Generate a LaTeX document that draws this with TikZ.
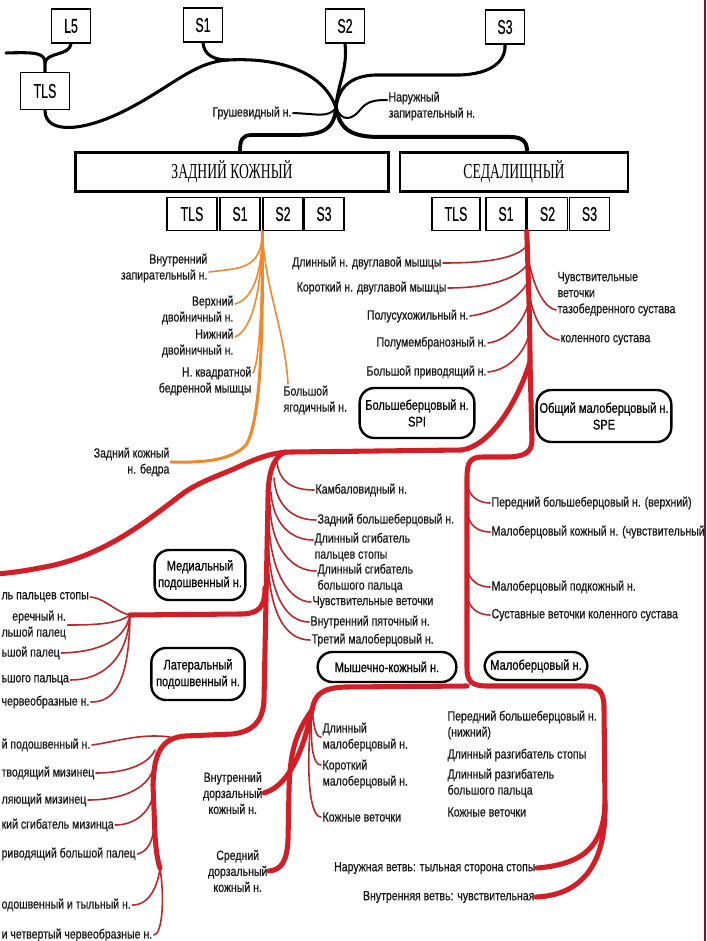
\documentclass[tikz,border=0pt]{standalone}
\usepackage{fontspec}
\setmainfont{Liberation Sans}[FakeStretch=0.79, FakeBold=0.6]
\newfontfamily\segfont{Liberation Sans}[FakeStretch=0.62, FakeBold=0.5]
\newfontfamily\titfont{Liberation Serif}[FakeStretch=0.64]
\usetikzlibrary{calc}
\definecolor{nervered}{HTML}{D21E26}
\definecolor{twigred}{HTML}{B52A2D}
\definecolor{nerveorange}{HTML}{EE8A2C}
\definecolor{edgered}{HTML}{7A1424}
\tikzstyle{lab} = [font=\fontsize{10}{12}\selectfont, inner sep=1pt, text=black!90]
\tikzstyle{seg} = [draw=black, line width=1.1pt, fill=white, rectangle,
    font=\segfont\fontsize{15}{15}\selectfont, minimum width=29pt, minimum height=25.5pt, inner sep=0pt]
\tikzstyle{subseg} = [seg, minimum width=30pt, minimum height=25pt]
\tikzstyle{mainbox} = [draw=black, line width=2.2pt, fill=white, rectangle,
    font=\titfont\fontsize{16}{16}\selectfont, minimum height=29pt, inner sep=0pt]
\tikzstyle{oval} = [draw=black, line width=1.8pt, fill=white, rounded corners=11pt, align=center,
    font=\fontsize{10.5}{12.5}\selectfont, inner sep=0pt]
\tikzstyle{rootline} = [draw=black, line width=2.3pt, line cap=round]
\tikzstyle{rootthin} = [draw=black, line width=1.5pt, line cap=round]
\tikzstyle{trunk} = [draw=nervered, line width=3.8pt, line cap=round]
\tikzstyle{twig} = [draw=twigred, line width=1.2pt, line cap=round]
\tikzstyle{otrunk} = [draw=nerveorange, line width=2.3pt, line cap=round]
\tikzstyle{otwig} = [draw=nerveorange, line width=1.2pt, line cap=round]

\begin{document}
\begin{tikzpicture}[x=0.75pt,y=-0.75pt]
\useasboundingbox[fill=white] (0,0) rectangle (706,941);
\draw[edgered, line width=1.5pt] (704.5,0) -- (704.5,941);

\node[seg] (L5) at (71,26) {L5};
\node[seg] (S1) at (203,25) {S1};
\node[seg] (S2) at (345,26) {S2};
\node[seg] (S3) at (505,27) {S3};
\node[seg, minimum width=37pt, minimum height=28pt] (TLS) at (45,91) {TLS};

\node[mainbox, minimum width=234.75pt] (zk) at (232,172) {ЗАДНИЙ КОЖНЫЙ};
\node[mainbox, minimum width=171pt] (sed) at (514,172) {СЕДАЛИЩНЫЙ};

\node[subseg, minimum width=37.5pt] (zTLS) at (192,214) {TLS};
\node[subseg] (zS1) at (240,214) {S1};
\node[subseg] (zS2) at (283,214) {S2};
\node[subseg] (zS3) at (324,214) {S3};
\node[subseg, minimum width=36pt] (sTLS) at (456,214) {TLS};
\node[subseg] (sS1) at (506,214) {S1};
\node[subseg] (sS2) at (547.5,214) {S2};
\node[subseg] (sS3) at (589.5,214) {S3};

\node[lab, anchor=east] (gru) at (293,113) {Грушевидный н.};
\node[lab, anchor=west, align=left] (nar) at (387,106) {Наружный\\запирательный н.};

\node[lab, anchor=east, align=right] (vzap) at (209,268) {Внутренний\\запирательный н.};
\node[lab, anchor=east, align=right] (vdv) at (235,310) {Верхний\\двойничный н.};
\node[lab, anchor=east, align=right] (ndv) at (235,343) {Нижний\\двойничный н.};
\node[lab, anchor=east, align=right] (kvb) at (253,381) {Н. квадратной\\бедренной мышцы};
\node[lab, anchor=west, align=left] (bya) at (282,400) {Большой\\ягодичный н.};
\node[lab, anchor=east, align=right] (zkb) at (171,462) {Задний кожный\\н. бедра};

\node[lab, anchor=east] (dlb) at (443,263) {Длинный н. двуглавой мышцы};
\node[lab, anchor=east] (krb) at (448,288) {Короткий н. двуглавой мышцы};
\node[lab, anchor=east] (pss) at (470,316) {Полусухожильный н.};
\node[lab, anchor=east] (pmb) at (488,343) {Полумембранозный н.};
\node[lab, anchor=east] (bpr) at (488,372) {Большой приводящий н.};
\node[lab, anchor=west, align=left] (chv) at (556,294) {Чувствительные\\веточки\\тазобедренного сустава};
\node[lab, anchor=west] (kls) at (559,340) {коленного сустава};

\node[oval, minimum width=86pt, minimum height=37.5pt] (spi) at (417,413) {Большеберцовый н.\\SPI};
\node[oval, minimum width=101pt, minimum height=39pt] (spe) at (604,416) {Общий малоберцовый н.\\SPE};
\node[oval, minimum width=68pt, minimum height=37.5pt] (mpn) at (200,575) {Медиальный\\подошвенный н.};
\node[oval, minimum width=70pt, minimum height=39pt] (lpn) at (198,674) {Латеральный\\подошвенный н.};
\node[oval, minimum width=104pt, minimum height=22.5pt] (mkn) at (387,667) {Мышечно-кожный н.};
\node[oval, minimum width=77pt, minimum height=21pt] (mbn) at (536,666) {Малоберцовый н.};

\node[lab, anchor=west] (kmb) at (314,490) {Камбаловидный н.};
\node[lab, anchor=west] (zbb) at (316,520) {Задний большеберцовый н.};
\node[lab, anchor=west, align=left] (dsp) at (313,547) {Длинный сгибатель\\пальцев стопы};
\node[lab, anchor=west, align=left] (dsb) at (316,578) {Длинный сгибатель\\большого пальца};
\node[lab, anchor=west] (chvv) at (311,602) {Чувствительные веточки};
\node[lab, anchor=west] (vpt) at (309,622) {Внутренний пяточный н.};
\node[lab, anchor=west] (tmb) at (310,640) {Третий малоберцовый н.};

\node[lab, anchor=west] (pbv) at (490,503) {Передний большеберцовый н. (верхний)};
\node[lab, anchor=west] (mkch) at (490,532) {Малоберцовый кожный н. (чувствительный};
\node[lab, anchor=west] (mpk) at (490,587) {Малоберцовый подкожный н.};
\node[lab, anchor=west] (svk) at (490,615) {Суставные веточки коленного сустава};

\node[lab, anchor=west] (mp1) at (0,597) {ль пальцев стопы};
\node[lab, anchor=west, align=right] (mp2) at (0,625) {еречный н.\\льшой палец};
\node[lab, anchor=west] (mp3) at (0,653) {ьшой палец};
\node[lab, anchor=west] (mp4) at (0,680) {ьшого пальца};
\node[lab, anchor=west] (mp5) at (0,702) {червеобразные н.};

\node[lab, anchor=west] (lp1) at (0,745) {й подошвенный н.};
\node[lab, anchor=west] (lp2) at (0,773) {тводящий мизинец};
\node[lab, anchor=west] (lp3) at (0,800) {ляющий мизинец};
\node[lab, anchor=west] (lp4) at (0,825) {кий сгибатель мизинца};
\node[lab, anchor=west] (lp5) at (0,854) {риводящий большой палец};
\node[lab, anchor=west] (lp6) at (0,905) {одошвенный и тыльный н.};
\node[lab, anchor=west] (lp7) at (0,935) {и четвертый червеобразные н.};

\node[lab, anchor=east, align=center] (vdk) at (264,793) {Внутренний\\дорзальный\\кожный н.};
\node[lab, anchor=east, align=center] (sdk) at (269,871) {Средний\\дорзальный\\кожный н.};
\node[lab, anchor=west, align=left] (dmb) at (321,737) {Длинный\\малоберцовый н.};
\node[lab, anchor=west, align=left] (kmbr) at (321,774) {Короткий\\малоберцовый н.};
\node[lab, anchor=west] (kv1) at (321,817) {Кожные веточки};

\node[lab, anchor=west, align=left] (pbn) at (446,725) {Передний большеберцовый н.\\(нижний)};
\node[lab, anchor=west] (drs) at (446,755) {Длинный разгибатель стопы};
\node[lab, anchor=west, align=left] (drb) at (446,783) {Длинный разгибатель\\большого пальца};
\node[lab, anchor=west] (kv2) at (446,812) {Кожные веточки};
\node[lab, anchor=east] (nvt) at (537,868) {Наружная ветвь: тыльная сторона стопы};
\node[lab, anchor=east] (vvc) at (536,897) {Внутренняя ветвь: чувствительная};

\coordinate (lend) at (6,53);
\coordinate (tlsj) at (45,63);
\coordinate (s1j) at (228,60);
\coordinate (cross) at (336,108);
\draw[rootline] (lend) .. controls (36,52) and (45,53) .. (tlsj) -- (TLS.north);
\draw[rootline] (L5.south) .. controls (70,56) and (46,52) .. (tlsj);
\draw[rootline] (TLS.south) .. controls (45,135) and (85,132) .. (130,108) .. controls (175,84) and (195,62) .. (s1j);
\draw[rootline] (S1.south) .. controls (204,55) and (214,60) .. (s1j);
\draw[rootline] (s1j) .. controls (285,57) and (325,75) .. (cross);
\draw[rootline] (S2.south) .. controls (348,70) and (337,85) .. (cross);
\draw[rootline] (S3.south) .. controls (506,62) and (490,74) .. (460,75) -- (375,75) .. controls (348,76) and (338,90) .. (cross);
\draw[rootline, line width=2.8pt] (cross) .. controls (334,130) and (322,135) .. (295,135) -- (252,135) .. controls (242,135) and (240,140) .. ($(zk.north)+(8,0)$);
\draw[rootline, line width=3pt] (cross) .. controls (340,130) and (352,137) .. (380,137) -- (510,137) .. controls (523,137) and (527,142) .. ($(sed.north)+(13,0)$);
\draw[rootthin] (gru.east) .. controls (318,114) and (328,118) .. (cross);
\draw[rootthin] (cross) .. controls (342,122) and (352,120) .. (360,110) .. controls (367,101) and (375,100) .. ($(nar.west)+(0,-6)$);

\draw[otrunk] (zS2.south west) .. controls (263,320) and (262,420) .. (246,445) .. controls (232,460) and (205,463) .. (zkb.east);
\draw[otwig] (zS2.south west) .. controls (262,270) and (240,268) .. ($(vzap.east)+(0,4)$);
\draw[otwig] (zS2.south west) .. controls (262,280) and (250,300) .. ($(vdv.east)+(0,-6)$);
\draw[otwig] (zS2.south west) .. controls (262,290) and (252,330) .. ($(ndv.east)+(0,-6)$);
\draw[otwig] (zS2.south west) .. controls (262,300) and (260,360) .. ($(kvb.east)+(0,-8)$);
\draw[otwig] (zS2.south west) .. controls (265,290) and (285,330) .. ($(bya.north west)+(6,0)$);

\coordinate (sj) at (530,362);
\coordinate (tj) at (285,452);
\coordinate (lend2) at (-4,574);
\draw[trunk] (sS2.south west) .. controls (529,300) and (530,330) .. (sj);
\draw[twig] (dlb.east) .. controls (490,263) and (520,258) .. (529,243);
\draw[twig] (krb.east) .. controls (490,288) and (520,278) .. (529,262);
\draw[twig] (pss.east) .. controls (500,312) and (522,295) .. (529,280);
\draw[twig] (pmb.east) .. controls (510,340) and (526,318) .. (529,300);
\draw[twig] (bpr.east) .. controls (510,370) and (527,350) .. (530,330);
\draw[twig] (530,266) .. controls (535,290) and (545,308) .. ($(chv.west)+(0,16)$);
\draw[twig] (530,298) .. controls (535,322) and (545,338) .. (kls.west);

\draw[trunk] (sj) -- (532,440) .. controls (532,453) and (524,457) .. (505,457) -- (483,457) .. controls (470,457) and (467,462) .. (467,478) -- (467,668) .. controls (467,682) and (472,686) .. (488,686) -- (585,686) .. controls (599,686) and (604,692) .. (604,708) -- (605,805);
\draw[trunk] (sj) .. controls (518,400) and (492,445) .. (462,450) -- (292,452) .. controls (272,452) and (255,459) .. (236,468) .. controls (215,477) and (200,482) .. (185,492) .. controls (150,518) and (110,553) .. (50,566) .. controls (25,571) and (10,573) .. (lend2);

\draw[twig] (467,482) .. controls (468,496) and (478,503) .. (pbv.west);
\draw[twig] (467,511) .. controls (468,525) and (478,532) .. (mkch.west);
\draw[twig] (467,566) .. controls (468,580) and (478,587) .. (mpk.west);
\draw[twig] (467,594) .. controls (468,608) and (478,615) .. (svk.west);

\coordinate (mpj) at (130,615);
\coordinate (lpend) at (160,868);
\draw[trunk] (tj) .. controls (272,458) and (268,475) .. (268,500) -- (264,700) .. controls (263,722) and (252,732) .. (232,734) -- (185,736) .. controls (162,738) and (154,752) .. (153,785) -- (155,835) .. controls (156,852) and (158,862) .. (lpend);
\draw[trunk] (265,588) .. controls (265,608) and (258,614) .. (240,614) -- (mpj);

\draw[twig] (277,462) .. controls (279,480) and (290,490) .. (kmb.west);
\draw[twig] (274,478) .. controls (276,505) and (292,520) .. (zbb.west);
\draw[twig] (271,492) .. controls (273,525) and (292,540) .. ($(dsp.west)+(0,-7)$);
\draw[twig] (270,505) .. controls (271,548) and (292,571) .. ($(dsb.west)+(0,-7)$);
\draw[twig] (269,518) .. controls (269,572) and (290,602) .. (chvv.west);
\draw[twig] (268,532) .. controls (268,592) and (285,622) .. (vpt.west);
\draw[twig] (268,546) .. controls (267,612) and (285,640) .. (tmb.west);

\draw[twig] (mpj) .. controls (115,612) and (105,598) .. (mp1.east);
\draw[twig] (mpj) .. controls (118,624) and (95,625) .. (mp2.east);
\draw[twig] (mpj) .. controls (125,640) and (100,652) .. (mp3.east);
\draw[twig] (mpj) .. controls (127,662) and (100,680) .. (mp4.east);
\draw[twig] (mpj) .. controls (129,682) and (115,702) .. (mp5.east);

\draw[twig] (lp1.east) .. controls (115,742) and (140,733) .. (170,737);
\draw[twig] (lp2.east) .. controls (125,773) and (148,765) .. (155,750);
\draw[twig] (lp3.east) .. controls (120,800) and (146,790) .. (153,770);
\draw[twig] (lp4.east) .. controls (135,825) and (150,812) .. (153,795);
\draw[twig] (lp5.east) .. controls (148,852) and (154,840) .. (154,822);
\draw[twig] (lp6.east) .. controls (150,905) and (158,885) .. (lpend);
\draw[twig] (lp7.east) .. controls (162,935) and (165,900) .. (lpend);

\coordinate (mcj) at (312,710);
\draw[trunk] (467,686) -- (345,687) .. controls (322,688) and (315,694) .. (mcj);
\draw[trunk] (mcj) .. controls (305,742) and (292,785) .. (vdk.east);
\draw[trunk] (mcj) .. controls (294,735) and (290,755) .. (289,790) -- (288,840) .. controls (287,860) and (282,870) .. (sdk.east);
\draw[twig] (mcj) .. controls (314,725) and (315,737) .. (dmb.west);
\draw[twig] (mcj) .. controls (310,740) and (312,765) .. ($(kmbr.west)+(0,-9)$);
\draw[twig] (mcj) .. controls (306,760) and (308,817) .. (kv1.west);

\coordinate (pd) at (605,805);
\draw[trunk] (pd) .. controls (603,845) and (585,864) .. (nvt.east);
\draw[trunk] (pd) .. controls (606,860) and (585,895) .. (vvc.east);
\end{tikzpicture}
\end{document}
